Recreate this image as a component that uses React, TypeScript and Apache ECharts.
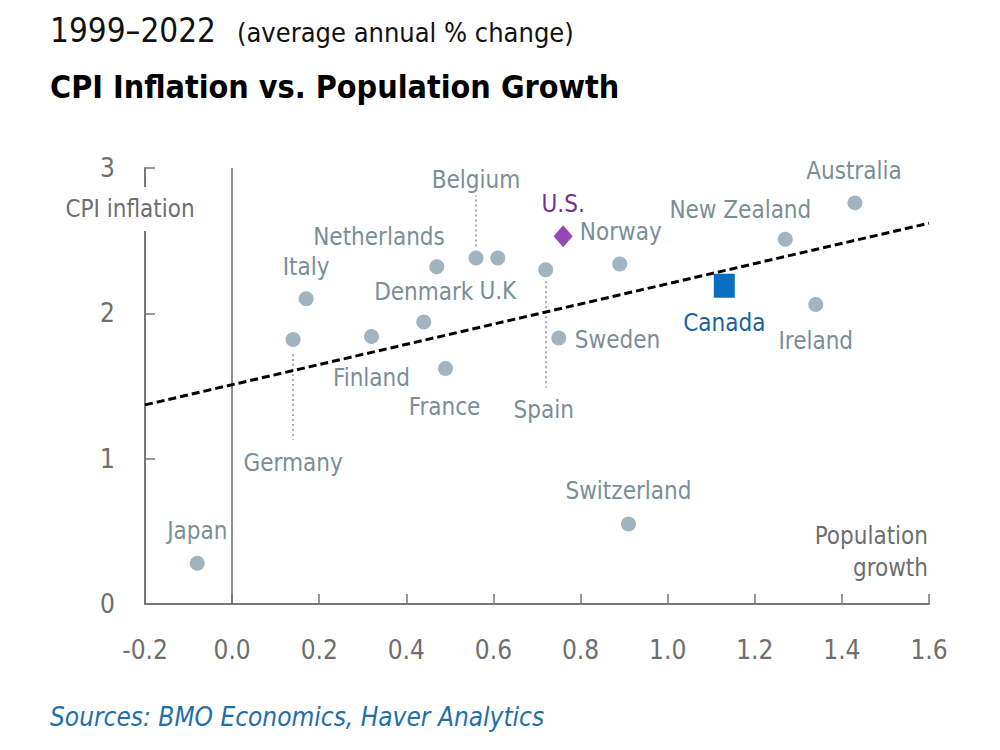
import React, { useEffect, useRef } from "react";
import * as echarts from "echarts";

// ---- data ----
const countries = ["Japan", "Germany", "Italy", "Finland", "Denmark", "Netherlands", "France", "Belgium", "U.K", "Spain", "Sweden", "Norway", "Switzerland", "New Zealand", "Ireland", "Australia"];
const popGrowth = [-0.08, 0.14, 0.17, 0.32, 0.44, 0.47, 0.49, 0.56, 0.61, 0.72, 0.75, 0.89, 0.91, 1.27, 1.34, 1.43];
const cpiInflation = [0.28, 1.82, 2.1, 1.84, 1.94, 2.32, 1.62, 2.38, 2.38, 2.3, 1.83, 2.34, 0.55, 2.51, 2.06, 2.76];
const usName = "U.S.";
const usPoint = [0.76, 2.53];
const canadaName = "Canada";
const canadaPoint = [1.13, 2.19];
const trendX = [-0.2, 1.6];
const trendY = [1.37, 2.62];
// dotted leader lines: [x, yFrom, yTo]
const leaderLines = [
  [0.56, 2.46, 2.81],
  [0.14, 1.72, 1.13],
  [0.72, 2.22, 1.49],
];

// ---- styling ----
const FONT = '"DejaVu Sans Condensed", "Liberation Sans Narrow", "Noto Sans", sans-serif';
const DOT = "#a2b4bf";
const LABEL = "#7a8e98";
const AXIS = "#777777";
const AXIS_TEXT = "#6e6e6e";

// label placement (offset from point centre), align
const labelPlace: Record<string, { off: [number, number]; align?: string }> = {
  Japan: { off: [0, -32] },
  Germany: { off: [0, 124] },
  Italy: { off: [0, -32] },
  Finland: { off: [0, 41] },
  Denmark: { off: [0, -30] },
  Netherlands: { off: [8, -30], align: "right" },
  France: { off: [-1, 38] },
  Belgium: { off: [0, -78] },
  "U.K": { off: [0, 33] },
  Spain: { off: [-2, 140] },
  Sweden: { off: [16, 2], align: "left" },
  Norway: { off: [1, -32] },
  Switzerland: { off: [0, -33] },
  "New Zealand": { off: [26, -29], align: "right" },
  Ireland: { off: [0, 36] },
  Australia: { off: [-1, -32] },
};

export default function App() {
  const ref = useRef<HTMLDivElement>(null);
  useEffect(() => {
    document.body.style.margin = "0";
    const chart = echarts.init(ref.current!, null, { renderer: "svg" });

    const countryData = countries.map((name, i) => {
      const p = labelPlace[name];
      return {
        name,
        value: [popGrowth[i], cpiInflation[i]],
        label: {
          show: true,
          position: "inside",
          offset: p.off,
          align: p.align || "center",
          verticalAlign: "middle",
          formatter: name,
          color: LABEL,
          fontSize: 24,
          fontFamily: FONT,
        },
      };
    });

    const leaderData = leaderLines.map((l) => [
      { coord: [l[0], l[1]] },
      { coord: [l[0], l[2]] },
    ]);

    const option: any = {
      animation: false,
      backgroundColor: "#ffffff",
      grid: { left: 145, right: 71, top: 168, bottom: 146, containLabel: false },
      xAxis: {
        type: "value",
        min: -0.2,
        max: 1.6,
        interval: 0.2,
        splitLine: { show: false },
        axisLine: { show: true, onZero: false, lineStyle: { color: AXIS, width: 2 } },
        axisTick: { show: true, inside: true, length: 10, lineStyle: { color: AXIS, width: 1.5 } },
        axisLabel: {
          margin: 33,
          fontSize: 26,
          fontFamily: FONT,
          color: AXIS_TEXT,
          formatter: (v: number) => v.toFixed(1),
        },
      },
      yAxis: {
        type: "value",
        min: 0,
        max: 3,
        interval: 1,
        splitLine: { show: false },
        axisLine: { show: true, onZero: false, lineStyle: { color: AXIS, width: 2 } },
        axisTick: { show: true, inside: true, length: 10, lineStyle: { color: AXIS, width: 1.5 } },
        axisLabel: { margin: 30, fontSize: 26, fontFamily: FONT, color: AXIS_TEXT },
      },
      series: [
        {
          type: "scatter",
          name: "Countries",
          symbol: "circle",
          symbolSize: 15,
          itemStyle: { color: DOT, opacity: 1 },
          data: countryData,
          z: 3,
          markLine: {
            silent: true,
            symbol: "none",
            label: { show: false },
            lineStyle: { color: "#a4afb6", type: [2, 3], width: 2 },
            data: leaderData,
          },
        },
        {
          type: "scatter",
          name: "Zero",
          data: [],
          markLine: {
            silent: true,
            symbol: "none",
            label: { show: false },
            lineStyle: { color: "#6a6a6a", type: "solid", width: 1.5 },
            data: [{ xAxis: 0 }],
          },
        },
        {
          type: "scatter",
          name: usName,
          symbol: "diamond",
          symbolSize: [19, 22],
          itemStyle: { color: "#9547b3", opacity: 1 },
          data: [{ name: usName, value: usPoint }],
          label: {
            show: true,
            position: "inside",
            offset: [0, -32],
            formatter: usName,
            color: "#733489",
            fontSize: 24,
            fontFamily: FONT,
          },
          z: 4,
        },
        {
          type: "scatter",
          name: canadaName,
          symbol: "rect",
          symbolSize: [21, 24],
          itemStyle: { color: "#0a6dbf", opacity: 1 },
          data: [{ name: canadaName, value: canadaPoint }],
          label: {
            show: true,
            position: "inside",
            offset: [0, 37],
            formatter: canadaName,
            color: "#15639f",
            fontSize: 24,
            fontFamily: FONT,
          },
          z: 4,
        },
        {
          type: "line",
          name: "Trend",
          data: trendX.map((x, i) => [x, trendY[i]]),
          symbol: "none",
          lineStyle: { color: "#000000", width: 3, type: [8, 4] },
          z: 5,
        },
      ],
      graphic: [
        {
          type: "text",
          x: 50,
          y: 30,
          style: { text: "1999–2022", fontSize: 33, fontFamily: FONT, fill: "#111", verticalAlign: "middle" },
        },
        {
          type: "text",
          x: 237,
          y: 32,
          style: { text: "(average annual % change)", fontSize: 27, fontFamily: FONT, fill: "#111", verticalAlign: "middle" },
        },
        {
          type: "text",
          x: 50,
          y: 87,
          style: { text: "CPI Inflation vs. Population Growth", fontSize: 32, fontWeight: "bold", fontFamily: FONT, fill: "#000", verticalAlign: "middle" },
        },
        {
          type: "text",
          x: 130,
          y: 209,
          z: 10,
          style: {
            text: "CPI inflation",
            fontSize: 24,
            fontFamily: FONT,
            fill: AXIS_TEXT,
            align: "center",
            verticalAlign: "middle",
            backgroundColor: "#ffffff",
            padding: [10, 2],
          },
        },
        {
          type: "text",
          x: 928,
          y: 536,
          style: { text: "Population", fontSize: 24, fontFamily: FONT, fill: AXIS_TEXT, align: "right", verticalAlign: "middle" },
        },
        {
          type: "text",
          x: 928,
          y: 568,
          style: { text: "growth", fontSize: 24, fontFamily: FONT, fill: AXIS_TEXT, align: "right", verticalAlign: "middle" },
        },
        {
          type: "text",
          x: 50,
          y: 717,
          style: { text: "Sources: BMO Economics, Haver Analytics", fontSize: 26, fontStyle: "italic", fontFamily: FONT, fill: "#1f6fa8", verticalAlign: "middle" },
        },
      ],
    };
    chart.setOption(option);
    return () => chart.dispose();
  }, []);
  return <div ref={ref} style={{ width: 1000, height: 750 }} />;
}
